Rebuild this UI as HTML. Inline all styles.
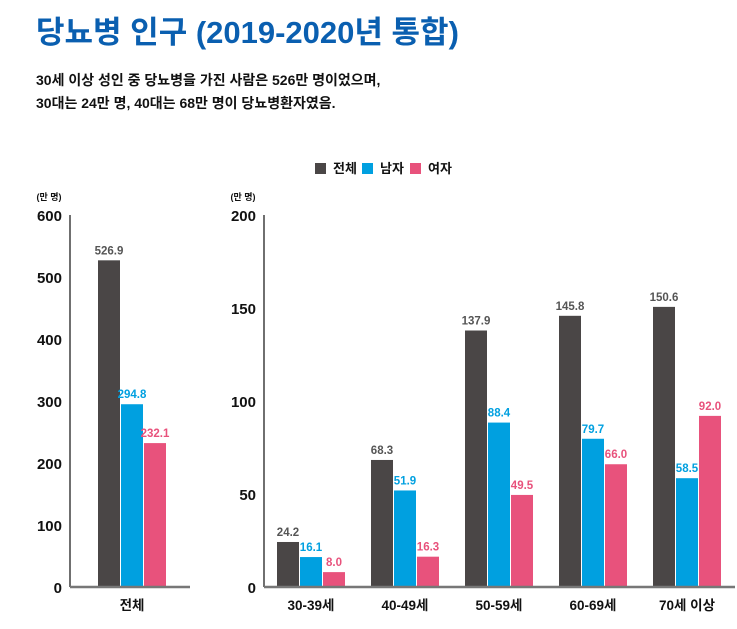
<!DOCTYPE html>
<html><head><meta charset="utf-8"><style>
body{margin:0;background:#fff;width:737px;height:624px;overflow:hidden;font-family:"Liberation Sans","Noto Sans CJK KR",sans-serif}
svg text{font-family:"Liberation Sans","Noto Sans CJK KR",sans-serif}
</style></head><body>
<svg id="c" width="737" height="624" xmlns="http://www.w3.org/2000/svg">
<text x="36" y="43" font-size="31" font-weight="bold" fill="#0a5fb0">당뇨병 인구 (2019-2020년 통합)</text>
<text x="36" y="85" font-size="14" font-weight="bold" fill="#111">30세 이상 성인 중 당뇨병을 가진 사람은 526만 명이었으며,</text>
<text x="36" y="108" font-size="14" font-weight="bold" fill="#111">30대는 24만 명, 40대는 68만 명이 당뇨병환자였음.</text>
<g>
<rect x="315" y="163" width="11" height="11" fill="#4a4646"/>
<text x="333" y="173" font-size="13" font-weight="bold" fill="#111">전체</text>
<rect x="362" y="163" width="11" height="11" fill="#00a0e0"/>
<text x="380" y="173" font-size="13" font-weight="bold" fill="#111">남자</text>
<rect x="410" y="163" width="11" height="11" fill="#e8527c"/>
<text x="428" y="173" font-size="13" font-weight="bold" fill="#111">여자</text>
</g>
<g id="left"></g><g id="right"></g>
</svg>
<script>
const leftTicks=[0,100,200,300,400,500,600];
const leftTotal=[526.9];
const leftMale=[294.8];
const leftFemale=[232.1];
const leftCats=["전체"];
const rightTicks=[0,50,100,150,200];
const rightCats=["30-39세","40-49세","50-59세","60-69세","70세 이상"];
const totalVals=[24.2,68.3,137.9,145.8,150.6];
const maleVals=[16.1,51.9,88.4,79.7,58.5];
const femaleVals=[8.0,16.3,49.5,66.0,92.0];
const NS="http://www.w3.org/2000/svg";
const colors=["#4a4646","#00a0e0","#e8527c"];
function mk(tag,attrs,parent,txt){const e=document.createElementNS(NS,tag);for(const k in attrs)e.setAttribute(k,attrs[k]);if(txt!==undefined)e.textContent=txt;parent.appendChild(e);return e;}
function draw(g,ticks,max,axisX,axisEnd,cats,series,firstX,step,prefix){
 const y0=587,yTop=215;
 const ys=v=>y0-(v/max)*(y0-yTop);
 let t=mk('text',{x:axisX-21,y:200,'font-size':9,'font-weight':'bold',fill:'#111','text-anchor':'middle'},g,'(만 명)');
 
 
 ticks.forEach(v=>{
  const e=mk('text',{x:axisX-8,y:ys(v)+6,'font-size':15,'font-weight':'bold',fill:'#111','text-anchor':'end'},g,String(v));
  
  
 });
 let l=mk('line',{x1:axisX,y1:yTop,x2:axisX,y2:y0,stroke:'#222','stroke-width':1.3},g);
 
 
 cats.forEach((c,i)=>{
  const gx=firstX+i*step;
  series.forEach((s,j)=>{
   const x=gx+j*23,v=s[i];
   const r=mk('rect',{x:x,y:ys(v),width:22,height:y0-ys(v),fill:colors[j]},g);
   
   
   const lb=mk('text',{x:x+11,y:ys(v)-6,'font-size':11.5,'font-weight':'bold',fill:j==0?'#555':colors[j],'text-anchor':'middle'},g,v.toFixed(1));
   
   
  });
  const ct=mk('text',{x:gx+34,y:610,'font-size':13.5,'font-weight':'bold',fill:'#111','text-anchor':'middle'},g,c);
  
  
 });
 let b=mk('line',{x1:axisX,y1:y0,x2:axisEnd,y2:y0,stroke:'#777','stroke-width':2.5},g);
 
 
}
draw(document.getElementById('left'),leftTicks,600,70,190,leftCats,[leftTotal,leftMale,leftFemale],98,94,'left');
draw(document.getElementById('right'),rightTicks,200,264,735,rightCats,[totalVals,maleVals,femaleVals],277,94,'right');
</script>
</body></html>
